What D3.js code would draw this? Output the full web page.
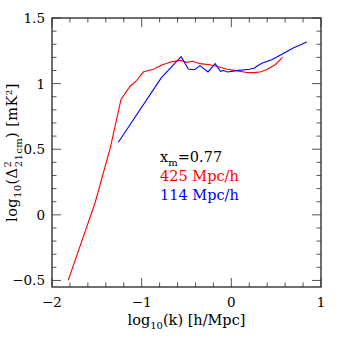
<!DOCTYPE html>
<html>
<head>
<meta charset="utf-8">
<script src="https://cdn.jsdelivr.net/npm/d3@7"></script>
<style>
  body { margin: 0; background: #fff; }
  text { font-family: "DejaVu Serif", serif; }
</style>
</head>
<body>
<script>
// red curve: 425 Mpc/h box
const redLogK = [-1.82, -1.52, -1.35, -1.23, -1.13, -1.06, -0.98, -0.87, -0.78, -0.68, -0.57, -0.50, -0.43, -0.35, -0.24, -0.15, -0.05, 0.06, 0.17, 0.26, 0.33, 0.39, 0.49, 0.57];
const redLogD = [-0.50, 0.09, 0.51, 0.88, 0.98, 1.02, 1.09, 1.11, 1.14, 1.165, 1.177, 1.162, 1.17, 1.152, 1.144, 1.131, 1.11, 1.099, 1.085, 1.084, 1.09, 1.106, 1.144, 1.20];

// blue curve: 114 Mpc/h box
const blueLogK = [-1.26, -0.78, -0.56, -0.48, -0.41, -0.35, -0.26, -0.18, -0.12, -0.09, -0.04, 0.06, 0.20, 0.26, 0.28, 0.34, 0.45, 0.58, 0.69, 0.84];
const blueLogD = [0.553, 1.045, 1.205, 1.111, 1.106, 1.137, 1.089, 1.152, 1.094, 1.10, 1.089, 1.099, 1.11, 1.119, 1.13, 1.155, 1.182, 1.23, 1.271, 1.317];

// axis ticks
const xMajor = [-2, -1, 0, 1];
const xMinor = d3.range(-2, 1.001, 0.2);
const yMajor = [-0.5, 0, 0.5, 1, 1.5];
const yMinor = d3.range(-0.5, 1.501, 0.1);

const legendLines = ["425 Mpc/h", "114 Mpc/h"];
const colors = ["#ff0000", "#0000ff"];

const width = 339, height = 339;
const margin = { top: 18, right: 18, bottom: 52, left: 52 };
const pw = width - margin.left - margin.right;
const ph = height - margin.top - margin.bottom;

const x = d3.scaleLinear().domain([-2, 1]).range([margin.left, margin.left + pw]);
const y = d3.scaleLinear().domain([-0.55, 1.5]).range([margin.top + ph, margin.top]);

const svg = d3.select("body").append("svg")
    .attr("width", width)
    .attr("height", height);

svg.append("rect").attr("width", width).attr("height", height).attr("fill", "#fff");

// curves
const line = d3.line().x(d => x(d[0])).y(d => y(d[1]));
const series = [d3.zip(redLogK, redLogD), d3.zip(blueLogK, blueLogD)];
series.forEach((s, i) => {
    svg.append("path")
        .attr("d", line(s))
        .attr("fill", "none")
        .attr("stroke", colors[i])
        .attr("stroke-width", 1.1);
});

// ticks on all four sides, pointing in
const tickColor = "#555";
function isMajor(v, majors) {
    return majors.some(m => Math.abs(m - v) < 1e-6);
}
xMinor.forEach(v => {
    const len = isMajor(v, xMajor) ? 9 : 4.5;
    svg.append("line").attr("x1", x(v)).attr("x2", x(v))
        .attr("y1", y.range()[0]).attr("y2", y.range()[0] - len)
        .attr("stroke", tickColor).attr("stroke-width", 1);
    svg.append("line").attr("x1", x(v)).attr("x2", x(v))
        .attr("y1", y.range()[1]).attr("y2", y.range()[1] + len)
        .attr("stroke", tickColor).attr("stroke-width", 1);
});
yMinor.forEach(v => {
    const len = isMajor(v, yMajor) ? 9 : 4.5;
    svg.append("line").attr("y1", y(v)).attr("y2", y(v))
        .attr("x1", x.range()[0]).attr("x2", x.range()[0] + len)
        .attr("stroke", tickColor).attr("stroke-width", 1);
    svg.append("line").attr("y1", y(v)).attr("y2", y(v))
        .attr("x1", x.range()[1]).attr("x2", x.range()[1] - len)
        .attr("stroke", tickColor).attr("stroke-width", 1);
});

// frame
svg.append("rect")
    .attr("x", margin.left).attr("y", margin.top)
    .attr("width", pw).attr("height", ph)
    .attr("fill", "none")
    .attr("stroke", "#333")
    .attr("stroke-width", 1.4);

// tick labels
const fmt = v => (v < 0 ? "\u2212" : "") + Math.abs(v);
svg.selectAll(".xl").data(xMajor).enter().append("text")
    .attr("x", d => x(d)).attr("y", y.range()[0] + 20)
    .attr("text-anchor", "middle")
    .style("font-size", "13.5px")
    .text(fmt);
svg.selectAll(".yl").data(yMajor).enter().append("text")
    .attr("x", margin.left - 7).attr("y", d => y(d) + 5)
    .attr("text-anchor", "end")
    .style("font-size", "13.5px")
    .text(fmt);

// x label
const xl = svg.append("text")
    .attr("x", margin.left + pw / 2).attr("y", 325)
    .attr("text-anchor", "middle")
    .style("font-size", "14.5px");
xl.append("tspan").text("log");
xl.append("tspan").attr("dy", 3.5).style("font-size", "10px").text("10");
xl.append("tspan").attr("dy", -3.5).text("(k) [h/Mpc]");

// y label
const yl = svg.append("text")
    .attr("transform", "translate(17," + (margin.top + ph / 2) + ") rotate(-90)")
    .attr("text-anchor", "middle")
    .style("font-size", "14.5px")
    .style("letter-spacing", "0.4px");
yl.append("tspan").text("log");
yl.append("tspan").attr("dy", 3.5).style("font-size", "10px").text("10");
yl.append("tspan").attr("dy", -3.5).text("(\u0394");
yl.append("tspan").attr("dy", -6).style("font-size", "10px").text("2");
yl.append("tspan").attr("dx", -6.5).attr("dy", 11).style("font-size", "10px").text("21cm");
yl.append("tspan").attr("dy", -5).text(") [mK\u00b2]");

// legend
const lx = 160;
const t0 = svg.append("text").attr("x", lx).attr("y", 162).style("font-size", "14.5px").attr("fill", "#000");
t0.append("tspan").text("x");
t0.append("tspan").attr("dy", 3.5).style("font-size", "10px").text("m");
t0.append("tspan").attr("dy", -3.5).text("=0.77");
legendLines.forEach((s, i) => {
    svg.append("text")
        .attr("x", lx).attr("y", 181 + i * 19)
        .style("font-size", "14.5px")
        .attr("fill", colors[i])
        .text(s);
});
</script>
</body>
</html>
